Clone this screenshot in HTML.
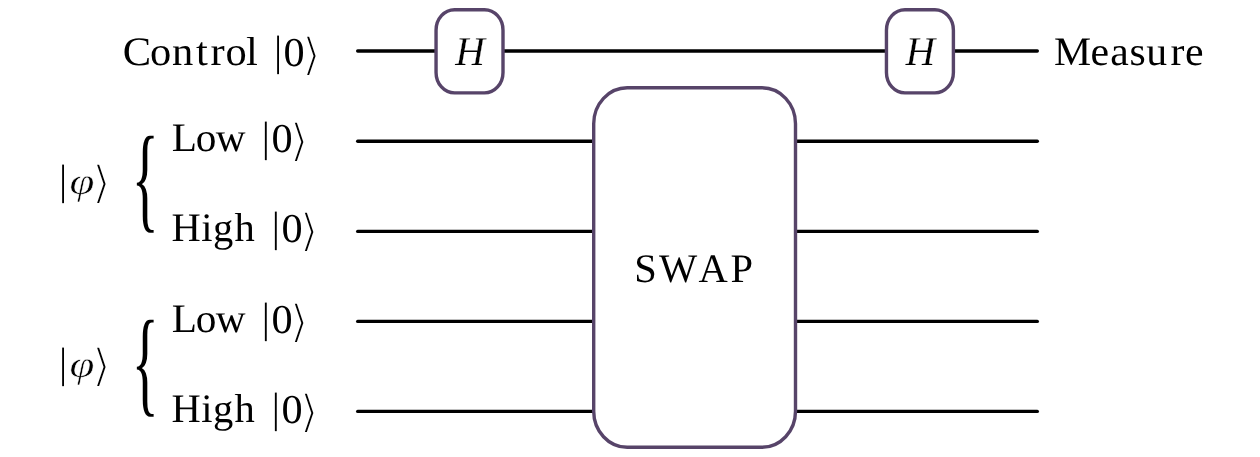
<!DOCTYPE html>
<html lang="en">
<head>
<meta charset="utf-8">
<title>Swap test circuit</title>
<style>
  html, body { margin: 0; padding: 0; background: #ffffff; }
  body { width: 1260px; height: 457px; overflow: hidden; }
  svg { display: block; will-change: transform; }
  .wire { stroke: #000000; stroke-width: 3.4; stroke-linecap: round; fill: none; }
  .gate { stroke: #574469; stroke-width: 3.4; fill: #ffffff; }
  text { fill: #000000; font-family: "Liberation Serif", "DejaVu Serif", serif; font-size: 40.5px; text-rendering: geometricPrecision; }
  .it { font-style: italic; }
  .hg { font-size: 41px; stroke: #ffffff; stroke-width: 0.25px; }
  .bar { font-size: 42.4px; }
  .zero { font-size: 41px; }
  .sym { font-family: "DejaVu Sans", "DejaVu Serif", sans-serif; }
  .ang { font-size: 45px; stroke: #ffffff; stroke-width: 1.8px; stroke-linejoin: miter; }
  .phi { font-size: 37.5px; stroke: #ffffff; stroke-width: 0.5px; }
  .brace { font-size: 117px; }
</style>
</head>
<body>
<svg width="1260" height="457" viewBox="0 0 1260 457">
  <rect x="0" y="0" width="1260" height="457" fill="#ffffff"/>

  <!-- wires -->
  <line class="wire" x1="357.7" y1="51" x2="1037.3" y2="51"/>
  <line class="wire" x1="357.7" y1="141.3" x2="1037.3" y2="141.3"/>
  <line class="wire" x1="357.7" y1="231.4" x2="1037.3" y2="231.4"/>
  <line class="wire" x1="357.7" y1="321.4" x2="1037.3" y2="321.4"/>
  <line class="wire" x1="357.7" y1="411.4" x2="1037.3" y2="411.4"/>

  <!-- gates -->
  <rect class="gate" x="436.05" y="9.7" width="66.95" height="83.2" rx="18.5" ry="20.5"/>
  <rect class="gate" x="886.45" y="9.7" width="66.95" height="83.2" rx="18.5" ry="20.5"/>
  <rect class="gate" x="593.7" y="87.8" width="201.8" height="359.5" rx="33.5" ry="36"/>

  <!-- gate labels -->
  <text class="it hg" x="455.2" y="65">H</text>
  <text class="it hg" x="905.6" y="65">H</text>
  <text x="634.24 659.11 698.53 730.57" y="282">SWAP</text>

  <!-- wire labels -->
  <text transform="translate(122.77 65) scale(1.05 1)" x="0 26 46.79 69.75 83.63 97.81 117.36" y="0">Control</text>
  <text transform="translate(1054.12 65) scale(1.03 1)" x="0 35.43 54.42 73.21 89.35 113.06 127.11" y="0">Measure</text>
  <text transform="translate(171.73 151) scale(1.02 1)" x="0 23.47 43.21" y="0">Low</text>
  <text x="171.39 201.18 212.89 234.54" y="241">High</text>
  <text transform="translate(171.73 332) scale(1.02 1)" x="0 23.47 43.21" y="0">Low</text>
  <text x="171.39 201.18 212.89 234.54" y="422">High</text>

  <!-- ket symbols after the wire labels -->
  <g>
    <text class="bar" transform="translate(278.0 65.0) scale(0.9 1)" x="-4.2" y="0">|</text>
    <text class="zero" transform="translate(285.2 66.0) scale(1.03 1)" x="-1.56" y="0">0</text>
    <text class="sym ang" transform="translate(305.7 65.0) scale(1.1 1)" x="-3.6" y="5">⟩</text>
  </g>
  <g>
    <text class="bar" transform="translate(265.8 151.0) scale(0.9 1)" x="-4.2" y="0">|</text>
    <text class="zero" transform="translate(273.0 152.0) scale(1.03 1)" x="-1.56" y="0">0</text>
    <text class="sym ang" transform="translate(293.5 151.0) scale(1.1 1)" x="-3.6" y="5">⟩</text>
  </g>
  <g>
    <text class="bar" transform="translate(275.8 241.0) scale(0.9 1)" x="-4.2" y="0">|</text>
    <text class="zero" transform="translate(283.0 242.0) scale(1.03 1)" x="-1.56" y="0">0</text>
    <text class="sym ang" transform="translate(303.5 241.0) scale(1.1 1)" x="-3.6" y="5">⟩</text>
  </g>
  <g>
    <text class="bar" transform="translate(265.8 332.0) scale(0.9 1)" x="-4.2" y="0">|</text>
    <text class="zero" transform="translate(273.0 333.0) scale(1.03 1)" x="-1.56" y="0">0</text>
    <text class="sym ang" transform="translate(293.5 332.0) scale(1.1 1)" x="-3.6" y="5">⟩</text>
  </g>
  <g>
    <text class="bar" transform="translate(275.8 422.0) scale(0.9 1)" x="-4.2" y="0">|</text>
    <text class="zero" transform="translate(283.0 423.0) scale(1.03 1)" x="-1.56" y="0">0</text>
    <text class="sym ang" transform="translate(303.5 422.0) scale(1.1 1)" x="-3.6" y="5">⟩</text>
  </g>

  <!-- register labels with braces -->
  <g>
    <text class="bar" transform="translate(63.0 194.0) scale(0.9 1)" x="-4.2" y="0">|</text>
    <text class="it phi" transform="translate(70.9 194.0) scale(1.2 1)" x="-1.1" y="0">φ</text>
    <text class="sym ang" transform="translate(95.8 194.0) scale(1.1 1)" x="-3.6" y="4">⟩</text>
  </g>
  <text class="brace" transform="translate(136.9 217.2) scale(0.48 1)" x="-10.6" y="0">{</text>
  <g>
    <text class="bar" transform="translate(63.0 377.0) scale(0.9 1)" x="-4.2" y="0">|</text>
    <text class="it phi" transform="translate(70.9 377.0) scale(1.2 1)" x="-1.1" y="0">φ</text>
    <text class="sym ang" transform="translate(95.8 377.0) scale(1.1 1)" x="-3.6" y="4">⟩</text>
  </g>
  <text class="brace" transform="translate(136.9 400.6) scale(0.48 1)" x="-10.6" y="0">{</text>
</svg>
</body>
</html>
